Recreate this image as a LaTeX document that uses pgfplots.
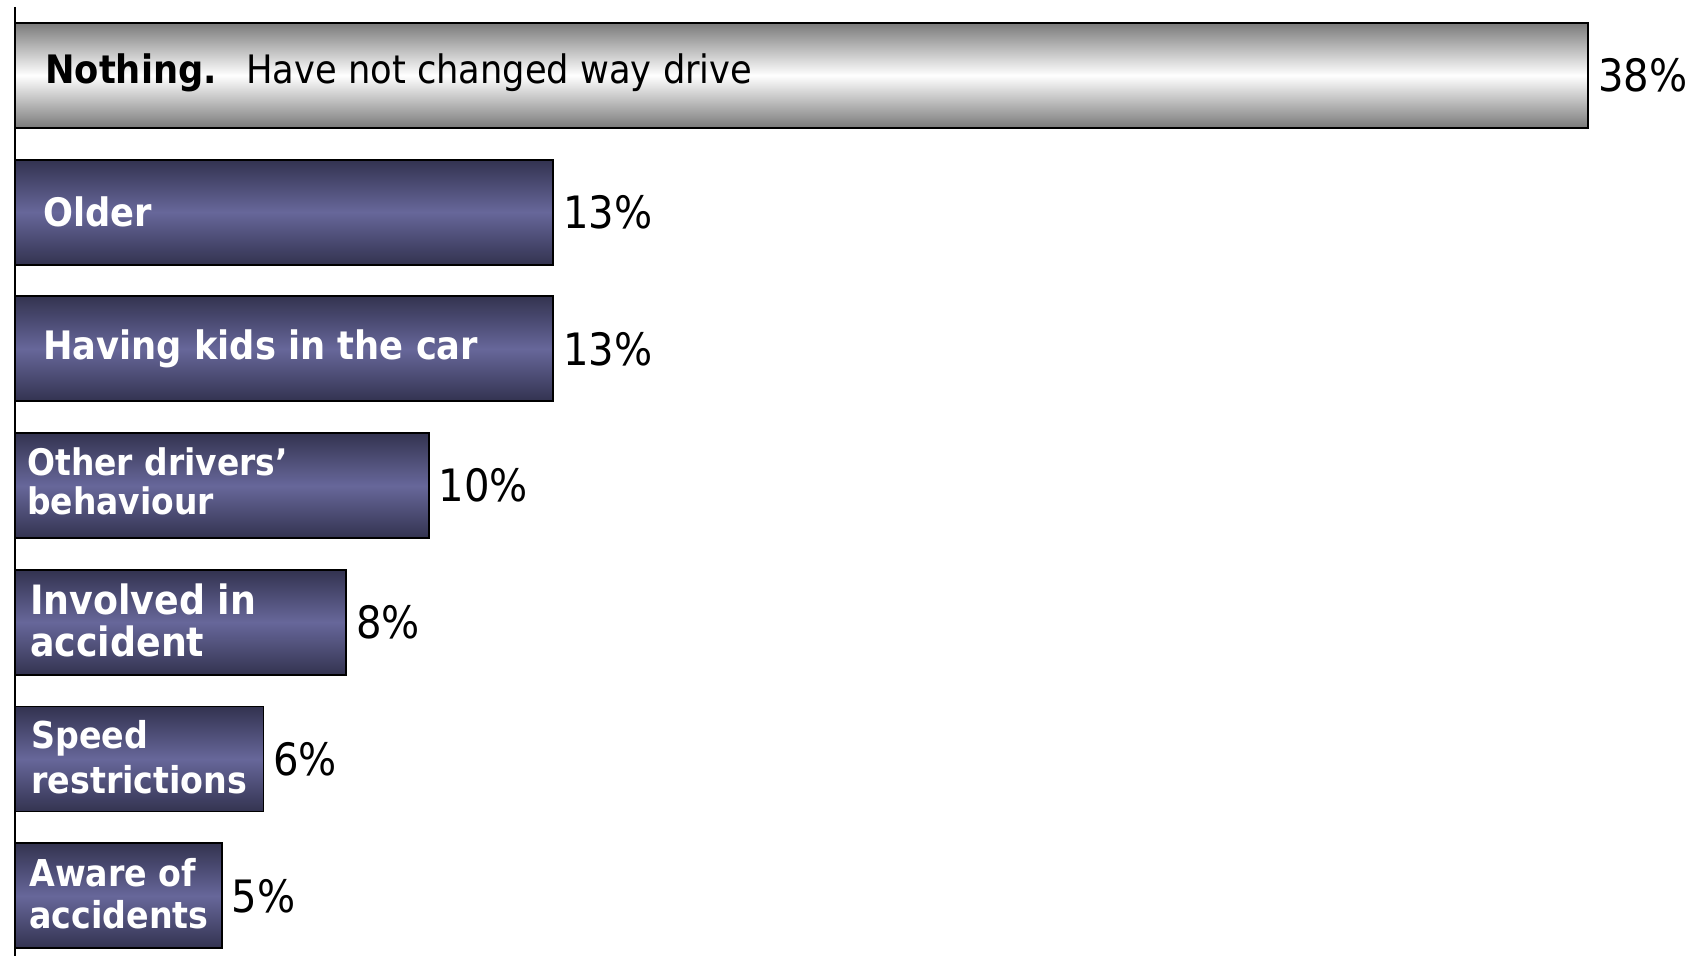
\documentclass[border=0pt]{standalone}
\usepackage{pgfplots}
\pgfplotsset{compat=1.18}
\usepackage{fontspec}
\setmainfont{DejaVu Sans Condensed}
\definecolor{pdark}{HTML}{333350}
\definecolor{pmid}{HTML}{67679A}
\definecolor{gdark}{HTML}{7A7A7A}
\pgfplotsset{
  purplebar/.style={draw=black, line width=0.9pt, top color=pdark, bottom color=pdark, middle color=pmid},
}
\tikzset{inlab/.style={anchor=west, inner sep=0pt, align=left, white}}
\begin{document}
\begin{tikzpicture}
\useasboundingbox (-7.5pt,0pt) rectangle (840.5pt,478pt);
\begin{axis}[
  scale only axis,
  width=840.5pt, height=474.5pt,
  xmin=0, xmax=40.6,
  ymin=-0.5, ymax=6.44,
  y dir=reverse,
  axis x line=none,
  axis y line*=left,
  y axis line style={-, line width=0.9pt, black},
  ytick=\empty, xtick=\empty,
  clip=false,
  xbar, bar width=52.5pt, bar shift=0pt,
  /pgf/number format/assume math mode=true,
  nodes near coords={\pgfmathprintnumber{\pgfplotspointmeta}\%},
  nodes near coords align=horizontal,
  every node near coord/.append style={font=\fontsize{22.3}{24}\selectfont, black, inner sep=4.5pt},
  point meta=x,
]
\addplot[draw=black, line width=0.9pt, top color=gdark, bottom color=gdark, middle color=white]
  coordinates {(38,0)};
\addplot[purplebar] coordinates {(13,1)};
\addplot[purplebar] coordinates {(13,2)};
\addplot[purplebar] coordinates {(10,3)};
\addplot[purplebar] coordinates {(8,4)};
\addplot[purplebar] coordinates {(6,5)};
\addplot[purplebar] coordinates {(5,6)};
\node[anchor=west, inner sep=0pt, font=\fontsize{19.6}{21}\selectfont, black, yshift=1.5pt] at (axis cs:0,0) {\hspace*{15pt}\textbf{Nothing.}\hspace{0.75em}Have not changed way drive};
\node[inlab, font=\bfseries\fontsize{19.6}{21}\selectfont] at (axis cs:0,1) {\hspace*{14pt}Older};
\node[inlab, font=\bfseries\fontsize{19.6}{21}\selectfont] at (axis cs:0,2) {\hspace*{14pt}Having kids in the car};
\node[inlab, xshift=6pt, yshift=2pt, font=\bfseries\fontsize{18.3}{19.5}\selectfont] at (axis cs:0,3) {Other drivers’\\behaviour};
\node[inlab, xshift=7.5pt, yshift=1pt, font=\bfseries\fontsize{20.2}{21}\selectfont] at (axis cs:0,4) {Involved in\\accident};
\node[inlab, xshift=8pt, yshift=1pt, font=\bfseries\fontsize{18.5}{22.2}\selectfont] at (axis cs:0,5) {Speed\\restrictions};
\node[inlab, xshift=7pt, yshift=1pt, font=\bfseries\fontsize{18.5}{21}\selectfont] at (axis cs:0,6) {Aware of\\accidents};
\end{axis}
\end{tikzpicture}
\end{document}
